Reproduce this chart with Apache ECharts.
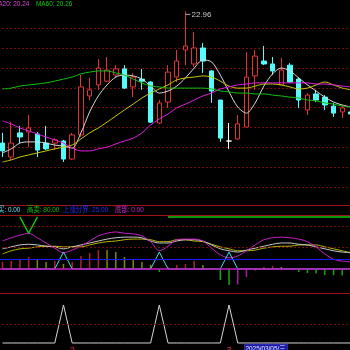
<!DOCTYPE html>
<html><head><meta charset="utf-8">
<script src="https://cdn.jsdelivr.net/npm/echarts@6/dist/echarts.min.js"></script>
<style>html,body{margin:0;padding:0;background:#000;}#c{width:350px;height:350px;}</style>
</head><body><div id="c"></div>
<script>
// ---------- data ----------
const dates = ['2025-01-16','2025-01-17','2025-01-20','2025-01-21','2025-01-22','2025-01-23','2025-01-24','2025-01-27',
'2025-02-05','2025-02-06','2025-02-07','2025-02-10','2025-02-11','2025-02-12','2025-02-13','2025-02-14','2025-02-17','2025-02-18','2025-02-19','2025-02-20','2025-02-21','2025-02-24','2025-02-25','2025-02-26','2025-02-27','2025-02-28',
'2025-03-03','2025-03-04','2025-03-05','2025-03-06','2025-03-07','2025-03-10','2025-03-11','2025-03-12','2025-03-13','2025-03-14','2025-03-17','2025-03-18','2025-03-19','2025-03-20','2025-03-21'];
const opens  = [18.43,17.95,18.78,18.81,18.74,18.43,18.43,18.50,17.88,18.71,20.05,20.43,20.56,20.77,20.98,20.36,20.63,20.53,19.12,19.84,20.70,21.63,21.15,21.70,20.91,19.91,18.50,18.57,18.98,20.74,21.25,21.15,20.43,21.11,20.63,19.57,20.12,20.01,19.70,19.50,19.50];
const closes = [18.16,18.43,18.64,18.95,18.19,18.23,18.54,17.88,18.71,20.36,20.26,21.01,20.94,20.98,20.32,20.70,20.56,19.15,19.81,20.87,21.25,21.77,21.70,21.25,20.22,18.60,18.50,19.09,20.70,21.42,21.15,20.91,20.94,20.53,19.91,20.08,19.91,19.74,19.46,19.64,19.43];
const lows   = [17.95,17.85,18.43,18.29,17.95,18.19,18.19,17.78,17.85,18.64,19.91,20.26,20.53,20.67,20.29,20.01,20.26,19.12,19.09,19.64,20.53,21.11,21.05,20.84,19.81,18.47,18.23,18.54,18.98,20.26,21.11,20.77,20.43,20.50,19.64,19.39,19.84,19.57,19.33,19.29,19.36];
const highs  = [18.78,19.15,19.02,19.39,18.81,19.02,18.60,18.54,18.78,20.77,20.67,21.32,21.39,21.11,21.11,20.84,20.98,20.56,19.91,21.11,21.63,22.96,22.25,21.87,20.94,19.91,19.12,19.39,21.56,21.63,21.77,21.39,21.36,21.18,20.70,20.15,20.26,20.08,19.81,19.74,19.57];
const ma5  = [18.09,18.23,18.43,18.47,18.47,18.43,18.36,18.33,18.26,18.78,19.50,20.05,20.43,20.70,20.77,20.74,20.63,20.39,20.15,20.22,20.39,20.67,21.01,21.29,21.22,20.77,20.19,19.67,19.46,19.81,20.39,20.81,21.01,20.91,20.67,20.43,20.22,20.01,19.84,19.74,19.67];
const ma10 = [17.78,17.85,17.95,18.02,18.09,18.16,18.23,18.29,18.36,18.57,18.78,18.95,19.15,19.36,19.57,19.77,19.98,20.15,20.29,20.43,20.60,20.67,20.70,20.74,20.70,20.56,20.39,20.32,20.32,20.39,20.46,20.46,20.43,20.36,20.29,20.32,20.43,20.53,20.43,20.32,20.26];
const ma20 = [19.19,19.09,18.95,18.85,18.74,18.64,18.54,18.43,18.26,18.16,18.16,18.23,18.29,18.40,18.50,18.60,18.78,19.05,19.26,19.43,19.64,19.77,19.91,20.05,20.15,20.29,20.36,20.43,20.46,20.50,20.50,20.50,20.50,20.50,20.50,20.50,20.46,20.46,20.43,20.39,20.36];
const ma60 = [20.29,20.32,20.39,20.43,20.46,20.50,20.56,20.63,20.70,20.81,20.87,20.91,20.91,20.84,20.77,20.63,20.50,20.39,20.36,20.32,20.32,20.32,20.32,20.32,20.29,20.22,20.19,20.15,20.15,20.12,20.12,20.08,20.05,20.01,19.98,19.91,19.88,19.81,19.77,19.70,19.67];
const priceGridLines = [22.39,21.70,21.02,20.33,19.65,18.96,18.28,17.59,16.91];
const highMarkIndex = 21;

const oscMagenta = [43,48,52,55,48,40,32,25,29,35,43,51,55,57,55,54,51,42,28,35,45,46,46,43,32,22,17,20,28,37,45,48,49,48,46,42,34,23,15,12,11];
const oscWhite   = [31,34,37,38,37,35,34,31,34,37,40,43,46,48,49,49,48,43,40,40,43,45,45,43,37,31,28,26,29,32,35,38,40,40,38,37,34,31,28,26,25];
const oscYellow  = [23,28,31,32,34,35,35,34,34,34,37,40,42,43,45,46,46,45,42,42,45,45,43,42,38,34,31,28,28,29,32,34,35,35,37,37,37,34,31,28,25];
const highSell   = [null,null,80,55,80,null,null,null,null,null,null,null,null,null,null,null,null,null,null,80,80,80,80,80,80,80,80,80,80,80,80,80,80,80,80,80,80,80,80,80,80];
const buySignal  = [0,0,0,0,0,0,0,26,0,0,0,0,0,0,0,0,0,0,26,0,0,0,0,0,0,0,26,0,0,0,0,0,0,0,0,0,0,0,0,0,0];
const momentum   = [10.8,12.3,15.4,18.5,13.8,10.8,12.3,7.7,10.8,20,24.6,29.2,29,26.2,18.5,15.4,10.8,6.2,-4.6,3,6,7.7,12.3,6.2,1.5,-16.9,-24.6,-23.8,-12.3,-2.3,3,4.6,3,0.8,-4.6,-6.2,-6.9,-9.2,-9.5,-10,-10.8];
const riseLevel = 15.3, bottomLevel = 0;
const subGridLines = [66.1, 33.8];
const subFrameLines = [98.46, 82.3];

const pulse = [0,0,0,0,0,0,0,100,0,0,0,0,0,0,0,0,0,0,100,0,0,0,0,0,0,0,100,0,0,0,0,0,0,0,0,0,0,0,0,0,0];
const pulseGridLines = [50];
const pulseFrameLine = 131.6;

const mainTitle = [['MA20: 20.24','#e040e0',-7],['MA60: 20.26','#10c810',36]];
const subTitle = [['买: 0.00','#58e0f0',-2],['高卖: 80.00','#10c010',27],['上涨分界: 25.00','#2a2aff',63],['底部: 0.00','#d020d0',115]];
const cursorIndex = 28;
const cursorText = '2025/03/05/三';

// ---------- chart ----------
const FONT = '"Liberation Sans","Noto Sans CJK SC",sans-serif';
const RED = '#a01414', DOT = '#7a1010';
const chart = echarts.init(document.getElementById('c'), null, {renderer:'canvas', width:350, height:350});
const gl = -1.86, gr = -5.36;

const barColors = momentum.map((v,i)=>{
  const p = i>0 ? momentum[i-1] : v - 1;
  if (v >= 0) return v > p ? '#a82424' : '#848400';
  return v < p ? '#10a810' : '#a818a8';
});

const monthStart = dates.map((d,i)=> i>0 && d.slice(5,7)!==dates[i-1].slice(5,7));

const option = {
  backgroundColor:'#000',
  animation:false,
  grid:[
    {left:gl,right:gr,top:0,height:205,outerBoundsMode:'none',containLabel:false},
    {left:gl,right:gr,top:204,height:89,outerBoundsMode:'none',containLabel:false},
    {left:gl,right:gr,top:292,height:58,outerBoundsMode:'none',containLabel:false}
  ],
  xAxis:[0,1,2].map(i=>({
    type:'category', gridIndex:i, data:dates, boundaryGap:true,
    axisLine:{show:false}, axisTick:{show:false}, splitLine:{show:false},
    axisLabel: i===2 ? {
      show:true, color:'#e03030', fontSize:9, fontFamily:FONT, margin:-4,
      interval:(idx)=>monthStart[idx],
      formatter:(v)=>String(parseInt(v.slice(5,7),10))
    } : {show:false}
  })),
  yAxis:[
    {gridIndex:0,type:'value',min:16.3,max:23.35,show:false,splitLine:{show:false}},
    {gridIndex:1,type:'value',min:-37,max:100,show:false,splitLine:{show:false}},
    {gridIndex:2,type:'value',min:-18.42,max:134.2,show:false,splitLine:{show:false}}
  ],
  series:[
    {type:'line',xAxisIndex:0,yAxisIndex:0,data:[],z:1,
      markLine:{z:1,silent:true,symbol:['none','none'],label:{show:false},
        lineStyle:{color:DOT,type:[2,2],width:1},
        data:priceGridLines.map(v=>({yAxis:v}))}},
    {type:'candlestick',xAxisIndex:0,yAxisIndex:0,barWidth:5,z:2,
      data:dates.map((d,i)=>[opens[i],closes[i],lows[i],highs[i]]),
      itemStyle:{color:'#000',color0:'#54fcfc',borderColor:'#e03434',borderColor0:'#54fcfc',borderColorDoji:'#ffffff',borderWidth:1},
      markPoint:{symbol:'circle',symbolSize:0,silent:true,
        data:[{coord:[highMarkIndex,highs[highMarkIndex]],value:highs[highMarkIndex]}],
        label:{show:true,position:'right',distance:0,offset:[0,3],
          formatter:(p)=>'{l|}{t|'+p.value.toFixed(2)+'}',
          rich:{l:{width:5,height:1,backgroundColor:'#b0b0b0'},t:{color:'#c8c8c8',fontSize:8,fontFamily:FONT,padding:[0,0,0,1]}}}}},
    {type:'line',xAxisIndex:0,yAxisIndex:0,data:ma5,showSymbol:false,smooth:0.3,z:3,lineStyle:{color:'#d8d8d8',width:1}},
    {type:'line',xAxisIndex:0,yAxisIndex:0,data:ma10,showSymbol:false,smooth:0.3,z:3,lineStyle:{color:'#c8c800',width:1}},
    {type:'line',xAxisIndex:0,yAxisIndex:0,data:ma20,showSymbol:false,smooth:0.3,z:3,lineStyle:{color:'#e020e0',width:1}},
    {type:'line',xAxisIndex:0,yAxisIndex:0,data:ma60,showSymbol:false,smooth:0.3,z:3,lineStyle:{color:'#10c010',width:1}},

    {type:'bar',xAxisIndex:1,yAxisIndex:1,barWidth:1.5,z:2,
      data:momentum.map((v,i)=>({value:v,itemStyle:{color:barColors[i]}}))},
    {type:'line',xAxisIndex:1,yAxisIndex:1,data:oscYellow,showSymbol:false,smooth:0.3,z:3,lineStyle:{color:'#b4b400',width:1}},
    {type:'line',xAxisIndex:1,yAxisIndex:1,data:oscWhite,showSymbol:false,smooth:0.3,z:3,lineStyle:{color:'#c8c8c8',width:1}},
    {type:'line',xAxisIndex:1,yAxisIndex:1,data:oscMagenta,showSymbol:false,smooth:0.3,z:3,lineStyle:{color:'#c820c8',width:1}},
    {type:'line',xAxisIndex:1,yAxisIndex:1,data:buySignal,showSymbol:false,z:3,lineStyle:{color:'#40dcec',width:1}},
    {type:'line',xAxisIndex:1,yAxisIndex:1,data:highSell,showSymbol:false,connectNulls:false,z:4,lineStyle:{color:'#10c810',width:1.5},
      markLine:{silent:true,symbol:['none','none'],label:{show:false},
        data:[
          ...subGridLines.map(v=>({yAxis:v,lineStyle:{color:DOT,type:[2,2],width:1}})),
          ...subFrameLines.map(v=>({yAxis:v,lineStyle:{color:RED,type:'solid',width:1}})),
          {yAxis:riseLevel,lineStyle:{color:'#1a1aff',type:'solid',width:1.2}},
          {yAxis:bottomLevel,lineStyle:{color:'#c818c8',type:'solid',width:1.5}}
        ]}},

    {type:'line',xAxisIndex:2,yAxisIndex:2,data:pulse,showSymbol:false,z:3,lineStyle:{color:'#d4d4d4',width:1},
      markLine:{silent:true,symbol:['none','none'],label:{show:false},
        data:[
          ...pulseGridLines.map(v=>({yAxis:v,lineStyle:{color:DOT,type:[2,2],width:1}})),
          {yAxis:pulseFrameLine,lineStyle:{color:RED,type:'solid',width:1}}
        ]}}
  ]
};
chart.setOption(option);

const cx = chart.convertToPixel({xAxisIndex:2}, cursorIndex);
const graphics = [];
const txt = (t,y)=>({type:'text',x:t[2],y:y,z:10,scaleX:0.8,style:{text:t[0],fill:t[1],font:'8px '+FONT,verticalAlign:'top',align:'left'}});
mainTitle.forEach(t=>graphics.push(txt(t,0)));
subTitle.forEach(t=>graphics.push(txt(t,205.5)));
graphics.push({type:'rect',x:cx-2,y:344,z:10,shape:{width:43,height:8},style:{fill:'#1c1ca8',stroke:'#5050d0',lineWidth:0.5}});
graphics.push({type:'text',x:cx-1,y:344.5,z:11,scaleX:0.8,style:{text:cursorText,fill:'#e8e8ff',font:'8px '+FONT,verticalAlign:'top',align:'left'}});
chart.setOption({graphic:graphics});
</script></body></html>
